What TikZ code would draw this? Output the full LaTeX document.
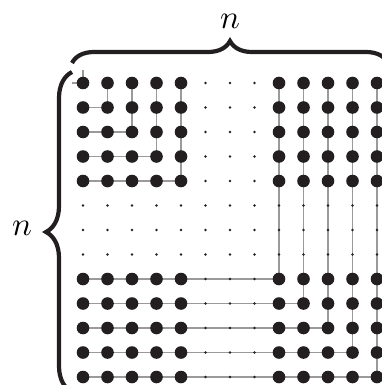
\documentclass[tikz,border=0pt]{standalone}
\usetikzlibrary{backgrounds,decorations.pathreplacing}
\definecolor{dotblack}{HTML}{231F20}
\definecolor{linegray}{HTML}{9A9A9A}
\tikzset{
 bigdot/.style={circle,fill=dotblack,inner sep=0pt,minimum size=12.6pt},
 smalldot/.style={circle,fill=dotblack,inner sep=0pt,minimum size=2.8pt},
 link/.style={draw=linegray,line width=1.7pt},
 bracebig/.style={decorate,decoration={brace,amplitude=#1},line width=4.2pt,draw=dotblack},
 lbl/.style={inner sep=0pt}
}
\begin{document}
\begin{tikzpicture}[x=1pt,y=-1pt]
\useasboundingbox (0,0) rectangle (382,385);
\foreach \r in {1,...,13}{
  \foreach \c in {1,...,13}{
    \pgfmathtruncatemacro\isbig{and(or(\r<6,\r>8),or(\c<6,\c>8))}
    \ifnum\isbig=1
      \node[bigdot] (p-\r-\c) at ({83+(\c-1)*24.5},{83+(\r-1)*24.5}) {};
    \else
      \node[smalldot] (p-\r-\c) at ({83+(\c-1)*24.5},{83+(\r-1)*24.5}) {};
    \fi
  }
}
\coordinate (s-up) at (83,70);
\coordinate (s-left) at (72,83);
\begin{pgfonlayer}{background}
\foreach \k in {2,3,4,5,9,10,11,12,13}{
  \draw[link] (p-\k-1.center) -- (p-\k-\k.center);
  \draw[link] (p-1-\k.center) -- (p-\k-\k.center);
}
\draw[link] (s-up) -- (p-1-1.center) -- (s-left);
\end{pgfonlayer}
\coordinate (tb-l) at (72,63);
\coordinate (tb-r) at (388,63);
\coordinate (lb-b) at (72,392);
\coordinate (lb-t) at (72,72);
\draw[bracebig=22pt] (tb-l) -- (tb-r);
\draw[bracebig=26pt] (lb-b) -- (lb-t);
\node[lbl] (ntop) at (230,21) {\scalebox{3.3}{$n$}};
\node[lbl] (nleft) at (22,228) {\scalebox{3.3}{$n$}};
\end{tikzpicture}
\end{document}
